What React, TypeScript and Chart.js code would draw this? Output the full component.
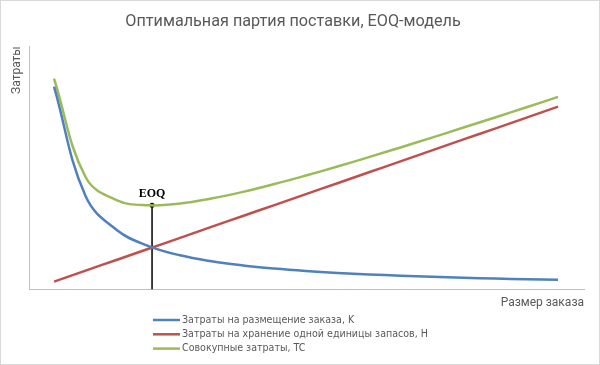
import React, { useEffect, useRef } from "react";
import { Chart, registerables } from "chart.js";

Chart.register(...registerables);

const chartTitle = "Оптимальная партия поставки, EOQ-модель";
const yTitle = "Затраты";
const xTitle = "Размер заказа";

const orderSize = [10, 23.6, 37.2, 50.8, 64.4, 77.9, 91.5, 105.1, 118.7, 132.3, 145.9, 159.5, 173.1, 186.7, 200.3, 213.9, 227.5];
const orderingCost = [202, 93, 59, 43.3, 34.1, 28.2, 24, 20.9, 18.5, 16.6, 15.1, 13.8, 12.7, 11.8, 11, 10.3, 9.7];
const holdingCost = [8, 18.9, 29.7, 40.6, 51.5, 62.4, 73.2, 84.1, 95, 105.8, 116.7, 127.6, 138.5, 149.4, 160.2, 171.1, 182];
const totalCost = [210, 112, 88.8, 83.9, 85.6, 90.6, 97.2, 105, 113.5, 122.4, 131.8, 141.4, 151.2, 161.2, 171.2, 181.4, 191.7];

const eoqX = [52.3, 52.3];
const eoqY = [0, 84];
const eoqLabel = "EOQ";

const seriesLabels = [
  "Затраты на размещение заказа, K",
  "Затраты на хранение одной единицы запасов, H",
  "Совокупные затраты, TC",
];
const seriesColors = ["#4F81BD", "#C0504D", "#9BBB59"];

const pts = (xs: number[], ys: number[]) => xs.map((x, i) => ({ x, y: ys[i] }));

const LEGEND_FAMILY = "'Liberation Sans Narrow', 'DejaVu Sans Condensed', Roboto, sans-serif";

export default function App() {
  const ref = useRef<HTMLCanvasElement | null>(null);

  useEffect(() => {
    document.body.style.margin = "0";
    const canvas = ref.current;
    if (!canvas) return;

    const framePlugin = {
      id: "frame",
      beforeDraw(chart: any) {
        const { ctx, width, height } = chart;
        ctx.save();
        ctx.fillStyle = "#ffffff";
        ctx.fillRect(0, 0, width, height);
        ctx.strokeStyle = "#d9d9d9";
        ctx.lineWidth = 1;
        ctx.strokeRect(0.5, 0.5, width - 1, height - 1);
        ctx.restore();
      },
    };

    const eoqPlugin = {
      id: "eoqLabel",
      afterDatasetsDraw(chart: any) {
        const { ctx } = chart;
        const xs = chart.scales.x;
        const ys = chart.scales.y;
        const px = xs.getPixelForValue(eoqX[1]);
        const py = ys.getPixelForValue(eoqY[1]);
        ctx.save();
        ctx.fillStyle = "#000000";
        ctx.font = "bold 12px 'Liberation Serif'";
        ctx.textAlign = "center";
        ctx.textBaseline = "middle";
        ctx.fillText(eoqLabel, px, py - 11);
        ctx.restore();
      },
    };

    const legendPlugin = {
      id: "customLegend",
      afterDraw(chart: any) {
        const { ctx } = chart;
        const left = 153;
        const top = 320;
        const rowH = 14.3;
        ctx.save();
        ctx.font = `12px ${LEGEND_FAMILY}`;
        const w = ctx.measureText(seriesLabels[1]).width;
        let size = 12 * 246 / w;
        if (size > 12.5) size = 12.5;
        ctx.font = `${size.toFixed(2)}px ${LEGEND_FAMILY}`;
        ctx.textBaseline = "middle";
        ctx.textAlign = "left";
        seriesLabels.forEach((lab, i) => {
          const y = top + i * rowH;
          ctx.strokeStyle = seriesColors[i];
          ctx.lineWidth = 2.5;
          ctx.beginPath();
          ctx.moveTo(left, y);
          ctx.lineTo(left + 27, y);
          ctx.stroke();
          ctx.fillStyle = "#595959";
          ctx.fillText(lab, left + 29, y);
        });
        ctx.restore();
      },
    };

    const chart = new Chart(canvas, {
      type: "line",
      data: {
        datasets: [
          {
            label: seriesLabels[0],
            data: pts(orderSize, orderingCost),
            borderColor: seriesColors[0],
            borderWidth: 2.5,
            pointRadius: 0,
            tension: 0.4,
          },
          {
            label: seriesLabels[1],
            data: pts(orderSize, holdingCost),
            borderColor: seriesColors[1],
            borderWidth: 2.5,
            pointRadius: 0,
            tension: 0.4,
          },
          {
            label: seriesLabels[2],
            data: pts(orderSize, totalCost),
            borderColor: seriesColors[2],
            borderWidth: 2.5,
            pointRadius: 0,
            tension: 0.4,
          },
          {
            label: eoqLabel,
            data: pts(eoqX, eoqY),
            borderColor: "#000000",
            backgroundColor: "#000000",
            borderWidth: 1.5,
            pointRadius: [0, 2.5],
            pointBorderWidth: 0,
            tension: 0,
          },
        ],
      },
      options: {
        responsive: false,
        animation: false,
        devicePixelRatio: 1,
        layout: { padding: { left: 2, right: 16, top: 0, bottom: 55 } },
        plugins: {
          legend: { display: false },
          tooltip: { enabled: false },
          title: {
            display: true,
            text: chartTitle,
            color: "#595959",
            font: { family: "Roboto", size: 16.2, weight: "normal" },
            padding: { top: 12.5, bottom: 14.4 },
          },
        },
        scales: {
          x: {
            type: "linear",
            min: -0.8,
            max: 238.7,
            grid: { display: false, drawTicks: false },
            border: { display: true, color: "#bfbfbf", width: 1 },
            ticks: { display: false },
            title: {
              display: true,
              text: xTitle,
              align: "end",
              color: "#595959",
              font: { family: "Roboto", size: 12 },
              padding: { top: 6, bottom: 0 },
            },
          },
          y: {
            type: "linear",
            min: 0,
            max: 242,
            grid: { display: false, drawTicks: false },
            border: { display: true, color: "#bfbfbf", width: 1 },
            ticks: { display: false },
            title: {
              display: true,
              text: yTitle,
              align: "end",
              color: "#595959",
              font: { family: "Roboto", size: 12 },
              padding: { top: 7.8, bottom: 4.8 },
            },
          },
        },
      },
      plugins: [framePlugin, eoqPlugin, legendPlugin],
    });

    return () => chart.destroy();
  }, []);

  return <canvas ref={ref} width={600} height={365} style={{ display: "block" }} />;
}
